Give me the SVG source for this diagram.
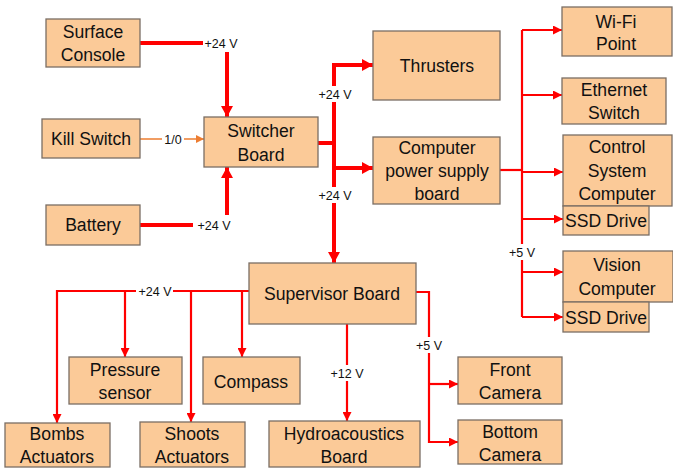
<svg xmlns="http://www.w3.org/2000/svg" width="673" height="471" viewBox="0 0 673 471">
<defs>
<style>
.box{fill:#FBCA98;stroke:#7a6e64;stroke-width:1.3}
.t{font-family:"Liberation Sans",Arial,sans-serif;font-size:17.6px;fill:#111;text-anchor:middle}
.l{font-family:"Liberation Sans",Arial,sans-serif;font-size:12.5px;fill:#111;text-anchor:middle}
.thick{stroke:#FF0000;stroke-width:4;fill:none}
.thin{stroke:#FF0000;stroke-width:2.2;fill:none}
.bg{fill:#fff}
</style>
<marker id="ak" markerUnits="userSpaceOnUse" markerWidth="12" markerHeight="12" refX="11" refY="6" orient="auto">
<path d="M0,0 L11,6 L0,12 Z" fill="#FF0000"/>
</marker>
<marker id="an" markerUnits="userSpaceOnUse" markerWidth="9" markerHeight="9" refX="9" refY="4.5" orient="auto">
<path d="M0,0 L9,4.5 L0,9 Z" fill="#FF0000"/>
</marker>
<marker id="ao" markerUnits="userSpaceOnUse" markerWidth="8" markerHeight="8" refX="8" refY="4" orient="auto">
<path d="M0,0 L8,4 L0,8 Z" fill="#ED7D31"/>
</marker>
</defs>

<g id="connectors">
<path class="thick" d="M140,43 H203"/>
<path class="thick" d="M227,52 V117" marker-end="url(#ak)"/>
<path class="thick" d="M140,225 H193"/>
<path class="thick" d="M227,215 V167" marker-end="url(#ak)"/>
<path d="M140,139 H162 M184,139 H204" stroke="#ED7D31" stroke-width="1.5" fill="none" marker-end="url(#ao)"/>
<path class="thick" d="M318,143 H334"/>
<path class="thick" d="M334,90 V65 H373" marker-end="url(#ak)"/>
<path class="thick" d="M334,168 H373" marker-end="url(#ak)"/>
<path class="thick" d="M334,65 V263" marker-end="url(#ak)"/>
<path class="thin" d="M500,170 H522"/>
<path class="thin" d="M522,30 V317"/>
<path class="thin" d="M522,30 H562" marker-end="url(#an)"/>
<path class="thin" d="M522,95 H562" marker-end="url(#an)"/>
<path class="thin" d="M522,172 H563" marker-end="url(#an)"/>
<path class="thin" d="M522,219 H563" marker-end="url(#an)"/>
<path class="thin" d="M522,272 H563" marker-end="url(#an)"/>
<path class="thin" d="M522,317 H563" marker-end="url(#an)"/>
<path class="thin" d="M249,291 H57 V423" marker-end="url(#an)"/>
<path class="thin" d="M125,291 V357" marker-end="url(#an)"/>
<path class="thin" d="M191,291 V422" marker-end="url(#an)"/>
<path class="thin" d="M242,291 V357" marker-end="url(#an)"/>
<path class="thin" d="M347,324 V421" marker-end="url(#an)"/>
<path class="thin" d="M416,292 H429 V442 H458" marker-end="url(#an)"/>
<path class="thin" d="M429,384 H458" marker-end="url(#an)"/>
<rect class="bg" x="318" y="86" width="34" height="16"/>
<rect class="bg" x="318" y="187" width="34" height="16"/>
<rect class="bg" x="509" y="244" width="26" height="16"/>
<rect class="bg" x="136" y="284" width="37" height="14"/>
<rect class="bg" x="329" y="365" width="36" height="16"/>
<rect class="bg" x="416" y="337" width="26" height="16"/>
<text class="l" x="221" y="47.5">+24 V</text>
<text class="l" x="214" y="229.5">+24 V</text>
<text class="l" x="173" y="143.5">1/0</text>
<text class="l" x="335" y="98.5">+24 V</text>
<text class="l" x="335" y="199.5">+24 V</text>
<text class="l" x="522" y="256.5">+5 V</text>
<text class="l" x="155" y="295.5">+24 V</text>
<text class="l" x="347" y="377.5">+12 V</text>
<text class="l" x="429" y="349.5">+5 V</text>
</g>

<g id="surface-console"><rect class="box" x="46" y="19" width="94" height="48"/><text class="t" x="93" y="38">Surface</text><text class="t" x="93" y="61">Console</text></g>
<g id="kill-switch"><rect class="box" x="42" y="119" width="98" height="39"/><text class="t" x="91" y="145">Kill Switch</text></g>
<g id="battery"><rect class="box" x="46" y="205" width="94" height="40"/><text class="t" x="93" y="231">Battery</text></g>
<g id="switcher-board"><rect class="box" x="204" y="117" width="114" height="50"/><text class="t" x="261" y="137">Switcher</text><text class="t" x="261" y="161">Board</text></g>
<g id="thrusters"><rect class="box" x="373" y="31" width="127" height="69"/><text class="t" x="437" y="72">Thrusters</text></g>
<g id="computer-psu"><rect class="box" x="373" y="137" width="127" height="67"/><text class="t" x="437" y="154">Computer</text><text class="t" x="437" y="177">power supply</text><text class="t" x="437" y="200">board</text></g>
<g id="wifi-point"><rect class="box" x="562" y="7" width="110" height="49"/><text class="t" x="616" y="28">Wi-Fi</text><text class="t" x="616" y="50">Point</text></g>
<g id="ethernet-switch"><rect class="box" x="562" y="78" width="104" height="46"/><text class="t" x="614" y="96">Ethernet</text><text class="t" x="614" y="119">Switch</text></g>
<g id="control-system-computer"><rect class="box" x="563" y="135" width="109" height="71"/><text class="t" x="617" y="153">Control</text><text class="t" x="617" y="177">System</text><text class="t" x="617" y="200">Computer</text></g>
<g id="ssd-drive-1"><rect class="box" x="563" y="206" width="86" height="29"/><text class="t" x="606" y="227">SSD Drive</text></g>
<g id="vision-computer"><rect class="box" x="563" y="251" width="110" height="51"/><text class="t" x="617" y="271">Vision</text><text class="t" x="617" y="295">Computer</text></g>
<g id="ssd-drive-2"><rect class="box" x="563" y="302" width="86" height="30"/><text class="t" x="606" y="324">SSD Drive</text></g>
<g id="supervisor-board"><rect class="box" x="249" y="263" width="167" height="61"/><text class="t" x="332" y="300">Supervisor Board</text></g>
<g id="pressure-sensor"><rect class="box" x="69" y="357" width="113" height="47"/><text class="t" x="125" y="376">Pressure</text><text class="t" x="125" y="399">sensor</text></g>
<g id="compass"><rect class="box" x="203" y="357" width="97" height="47"/><text class="t" x="251" y="388">Compass</text></g>
<g id="bombs-actuators"><rect class="box" x="5" y="423" width="105" height="44"/><text class="t" x="57" y="440">Bombs</text><text class="t" x="57" y="463">Actuators</text></g>
<g id="shoots-actuators"><rect class="box" x="140" y="422" width="105" height="45"/><text class="t" x="192" y="440">Shoots</text><text class="t" x="192" y="463">Actuators</text></g>
<g id="hydroacoustics-board"><rect class="box" x="269" y="421" width="151" height="46"/><text class="t" x="344" y="440">Hydroacoustics</text><text class="t" x="344" y="463">Board</text></g>
<g id="front-camera"><rect class="box" x="458" y="357" width="104" height="47"/><text class="t" x="510" y="376">Front</text><text class="t" x="510" y="399">Camera</text></g>
<g id="bottom-camera"><rect class="box" x="458" y="420" width="104" height="44"/><text class="t" x="510" y="438">Bottom</text><text class="t" x="510" y="461">Camera</text></g>
</svg>
